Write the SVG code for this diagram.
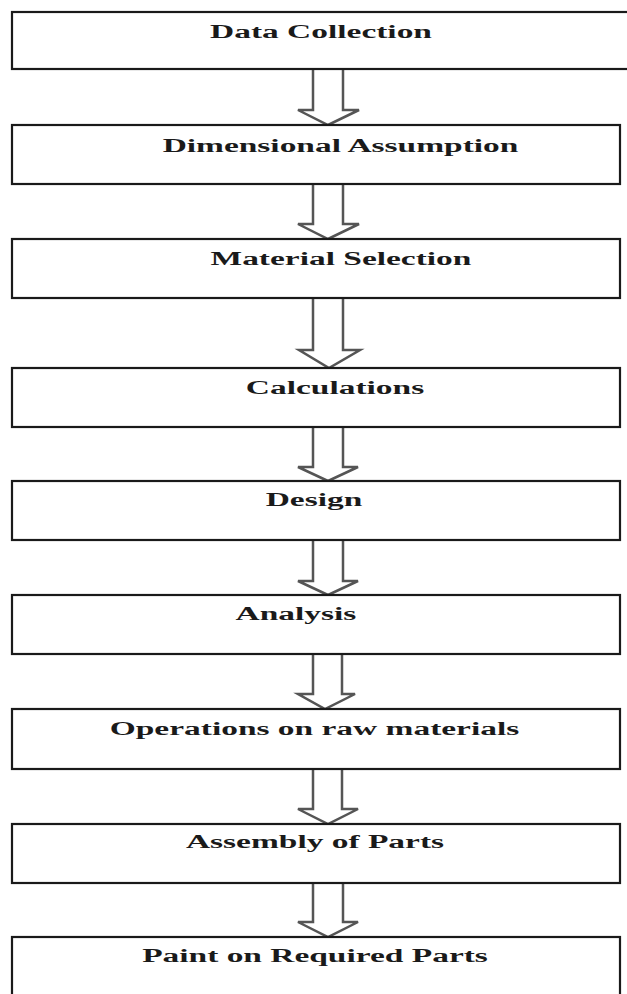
<svg xmlns="http://www.w3.org/2000/svg" width="627" height="994" viewBox="0 0 627 994">
<style>
.box{fill:#fff;stroke:#1a1a1a;stroke-width:2.2}
.lbl{font-family:"Liberation Serif","Times New Roman",serif;font-weight:bold;font-size:19px;fill:#1a1a1a;text-anchor:middle}
.arr{fill:#fff;stroke:#555;stroke-width:2.5;stroke-linejoin:miter}
</style>
<rect width="627" height="994" fill="#fff"/>
<g id="connectors">
<path class="arr" d="M313,69 V110 H298 L328,125 L359,110 H343 V69"/>
<path class="arr" d="M313,184 V224 H298 L328,239 L359,224 H343 V184"/>
<path class="arr" d="M313,298 V350 H299 L329,368 L360,350 H343 V298"/>
<path class="arr" d="M313,427 V467 H298 L328,481 L358,467 H343 V427"/>
<path class="arr" d="M313,540 V581 H298 L328,595 L358,581 H343 V540"/>
<path class="arr" d="M313,654 V694 H298 L325,709 L355,694 H342 V654"/>
<path class="arr" d="M313,769 V809 H298 L328,824 L358,809 H342 V769"/>
<path class="arr" d="M313,883 V922 H298 L328,937 L358,922 H343 V883"/>
</g>
<g id="n1"><rect class="box" x="12" y="12" width="620" height="57"/><text class="lbl" transform="translate(321,38) scale(1.76,1)">Data Collection</text></g>
<g id="n2"><rect class="box" x="12" y="125" width="608" height="59"/><text class="lbl" transform="translate(340.5,152) scale(1.76,1)">Dimensional Assumption</text></g>
<g id="n3"><rect class="box" x="12" y="239" width="608" height="59"/><text class="lbl" transform="translate(341,265) scale(1.76,1)">Material Selection</text></g>
<g id="n4"><rect class="box" x="12" y="368" width="608" height="59"/><text class="lbl" transform="translate(335,394) scale(1.76,1)">Calculations</text></g>
<g id="n5"><rect class="box" x="12" y="481" width="608" height="59"/><text class="lbl" transform="translate(314,506) scale(1.76,1)">Design</text></g>
<g id="n6"><rect class="box" x="12" y="595" width="608" height="59"/><text class="lbl" transform="translate(296,620) scale(1.76,1)">Analysis</text></g>
<g id="n7"><rect class="box" x="12" y="709" width="608" height="60"/><text class="lbl" transform="translate(314.5,735) scale(1.76,1)">Operations on raw materials</text></g>
<g id="n8"><rect class="box" x="12" y="824" width="608" height="59"/><text class="lbl" transform="translate(315,848) scale(1.76,1)">Assembly of Parts</text></g>
<g id="n9"><rect class="box" x="12" y="937" width="608" height="70"/><text class="lbl" transform="translate(315,962) scale(1.76,1)">Paint on Required Parts</text></g>
</svg>
